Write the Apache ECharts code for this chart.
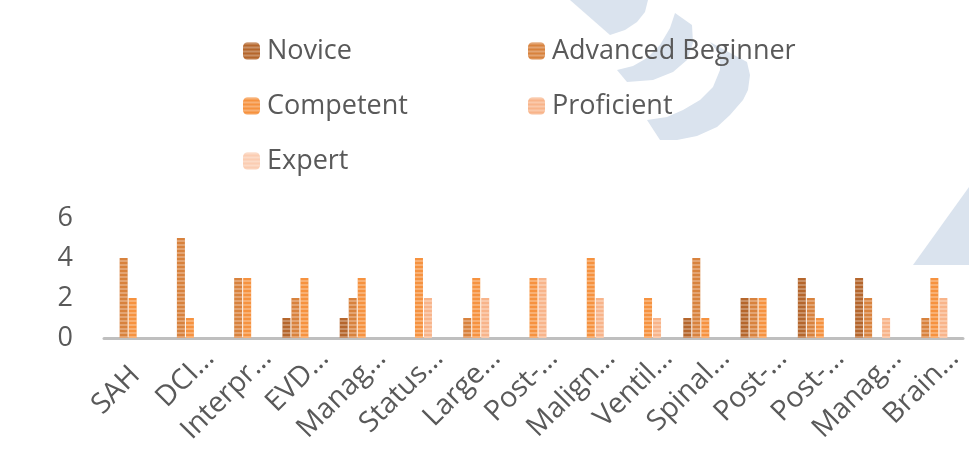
<!DOCTYPE html>
<html>
<head>
<meta charset="utf-8">
<script src="https://cdn.jsdelivr.net/npm/echarts@6/dist/echarts.min.js"></script>
<style>
  html, body { margin: 0; padding: 0; background: #fff; }
  #chart { width: 969px; height: 468px; }
</style>
</head>
<body>
<div id="chart"></div>
<script>
var categories = ['SAH', 'DCI…', 'Interpr…', 'EVD…', 'Manag…', 'Status…', 'Large…', 'Post-…',
  'Malign…', 'Ventil…', 'Spinal…', 'Post-…', 'Post-…', 'Manag…', 'Brain…'];
var novice           = [0, 0, 0, 1, 1, 0, 0, 0, 0, 0, 1, 2, 3, 3, 0];
var advancedBeginner = [4, 5, 3, 2, 2, 0, 1, 0, 0, 0, 4, 2, 2, 2, 1];
var competent        = [2, 1, 3, 3, 3, 4, 3, 3, 4, 2, 1, 2, 1, 0, 3];
var proficient       = [0, 0, 0, 0, 0, 2, 2, 3, 2, 1, 0, 0, 0, 1, 2];
var expert           = [0, 0, 0, 0, 0, 0, 0, 0, 0, 0, 0, 0, 0, 0, 0];
var yTicks = [0, 2, 4, 6];

var textColor = '#595959';
var font = "'Open Sans', sans-serif";
var stripes = { symbol: 'rect', symbolSize: 1, dashArrayX: [10, 0], dashArrayY: [2, 2], color: 'rgba(255,255,255,0.28)' };

function bar(name, data, color) {
  return {
    name: name, type: 'bar', data: data,
    barWidth: 8, barGap: '12.5%',
    itemStyle: { color: color, decal: stripes }
  };
}

var legendText = { fontSize: 27, color: textColor, fontFamily: font, lineHeight: 30, padding: [0, 0, 0, 2] };
var labelStyle = { fontSize: 28.5, fontFamily: font, color: textColor, lineHeight: 30 };
var blue = '#dae3ee';

var chart = echarts.init(document.getElementById('chart'));
chart.setOption({
  animation: false,
  backgroundColor: '#fff',
  // slide decoration behind the chart
  graphic: [
    { type: 'polygon', z: -10, style: { fill: blue },
      shape: { points: [[570, 0], [648, 0], [645, 12], [637, 22], [625, 30], [610, 35]] } },
    { type: 'polygon', z: -10, style: { fill: blue },
      shape: { points: [[675, 13], [692, 25], [693, 43], [687, 60], [673, 72], [653, 80], [627, 82],
        [617, 70], [633, 66], [647, 58], [660, 45], [670, 28]] } },
    { type: 'polygon', z: -10, style: { fill: blue },
      shape: { points: [[710, 42], [747, 62], [750, 75], [748, 90], [743, 100], [730, 115], [717, 127],
        [697, 136], [677, 140], [660, 140], [647, 120], [667, 117], [683, 110], [700, 100], [713, 87],
        [720, 70], [720, 55]] } },
    { type: 'polygon', z: -10, style: { fill: blue },
      shape: { points: [[913, 265], [969, 187], [969, 265]] } }
  ],
  legend: [
    { left: 243, top: 36, padding: 0, orient: 'vertical', itemWidth: 17, itemHeight: 17, itemGap: 25,
      data: ['Novice', 'Competent', 'Expert'], textStyle: legendText },
    { left: 528, top: 36, padding: 0, orient: 'vertical', itemWidth: 17, itemHeight: 17, itemGap: 25,
      data: ['Advanced Beginner', 'Proficient'], textStyle: legendText }
  ],
  grid: { left: 104, right: 6, top: 218, bottom: 130, outerBoundsMode: 'none' },
  xAxis: {
    type: 'category',
    data: categories,
    axisLine: { lineStyle: { color: '#bfbfbf', width: 3 } },
    axisTick: { show: false },
    axisLabel: {
      interval: 0, rotate: 45, margin: -4,
      align: 'right', verticalAlign: 'top', padding: [13, 0, 0, 0],
      color: textColor, fontSize: 28.5, fontFamily: font, lineHeight: 30,
      // labels that fit are centred in their slot, truncated ones run to the end
      formatter: function (v) { return v.indexOf('…') < 0 ? '{c|' + v + '}' : '{t|' + v + '}'; },
      rich: {
        c: Object.assign({ width: 103, align: 'center' }, labelStyle),
        t: labelStyle
      }
    }
  },
  yAxis: {
    type: 'value',
    min: yTicks[0], max: yTicks[yTicks.length - 1], interval: yTicks[1] - yTicks[0],
    axisLine: { show: false }, axisTick: { show: false }, splitLine: { show: false },
    axisLabel: { margin: 31, color: textColor, fontSize: 27, fontFamily: font }
  },
  series: [
    bar('Novice', novice, '#b5662c'),
    bar('Advanced Beginner', advancedBeginner, '#d8823d'),
    bar('Competent', competent, '#f6923f'),
    bar('Proficient', proficient, '#f8b48a'),
    bar('Expert', expert, '#fbcdb2')
  ]
});
</script>
</body>
</html>
